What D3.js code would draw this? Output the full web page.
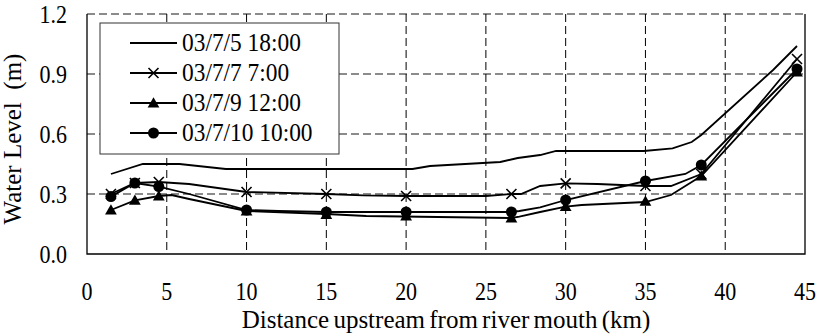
<!DOCTYPE html>
<html lang="en">
  <head>
    <meta charset="utf-8">
    <title>Water Level</title>
    <script src="https://d3js.org/d3.v7.min.js"></script>
    <style type="text/css">
      html, body {
        margin: 0; padding: 0;
        background: #fff;
      }
      text {
        font-family: "Liberation Serif", "Times New Roman", serif;
        fill: #000;
      }
    </style>
  </head>

  <body>
    <svg width="822" height="336"></svg>

    <script type="text/javascript">

      // ---- data ----
      var xTicks = [0, 5, 10, 15, 20, 25, 30, 35, 40, 45];
      var yTicks = [0, 0.3, 0.6, 0.9, 1.2];
      var yTickLabels = ["0.0", "0.3", "0.6", "0.9", "1.2"];

      var seriesNames = ["03/7/5 18:00", "03/7/7 7:00", "03/7/9 12:00", "03/7/10 10:00"];
      var markerTypes = ["none", "cross", "triangle", "circle"];

      // observation points (km) where the markers sit
      var markerKm = [1.5, 3.0, 4.5, 10, 15, 20, 26.6, 30, 35, 38.5, 44.5];
      var cross7    = [0.30, 0.355, 0.36, 0.31, 0.30, 0.29, 0.30, 0.353, 0.34, 0.40, 0.975];
      var tri9      = [0.22, 0.268, 0.29, 0.215, 0.197, 0.19, 0.18, 0.237, 0.263, 0.39, 0.91];
      var circle10  = [0.287, 0.355, 0.337, 0.22, 0.21, 0.21, 0.21, 0.27, 0.365, 0.445, 0.925];

      // line traces [km, m]
      var line5 = [[1.5, 0.40], [3.5, 0.45], [5.8, 0.45], [8.7, 0.425], [20.4, 0.425], [21.5, 0.44],
                   [25.9, 0.46], [27, 0.48], [28.4, 0.495], [29.4, 0.515], [34.9, 0.515], [36.7, 0.528],
                   [37.9, 0.56], [38.5, 0.595], [43, 0.92], [44.5, 1.04]];
      var line7 = [[1.5, 0.30], [3.0, 0.355], [4.5, 0.36], [6.4, 0.35], [10, 0.31], [15, 0.30], [17.3, 0.293],
                   [20, 0.29], [25, 0.29], [26.6, 0.30], [27.2, 0.30], [28.4, 0.34], [30, 0.353], [32, 0.35],
                   [35, 0.34], [36.6, 0.34], [38.5, 0.40], [44.5, 0.975]];
      var line9 = [[1.5, 0.22], [3.0, 0.268], [4.5, 0.29], [5.3, 0.295], [6.4, 0.275], [10, 0.215], [15, 0.20],
                   [17.5, 0.19], [22, 0.185], [26.6, 0.18], [27.1, 0.187], [28.4, 0.21], [30, 0.237], [31, 0.245],
                   [35, 0.26], [36.6, 0.295], [38.5, 0.39], [44.5, 0.91]];
      var line10 = [[1.5, 0.287], [3.0, 0.355], [4.5, 0.337], [6.4, 0.30], [10, 0.22], [12, 0.215], [15, 0.21],
                    [20, 0.21], [26.6, 0.21], [27.1, 0.215], [28.4, 0.233], [30, 0.27], [35, 0.365], [37.5, 0.40],
                    [38.5, 0.445], [44.5, 0.925]];

      var lines = [line5, line7, line9, line10];
      var markerVals = [null, cross7, tri9, circle10];

      // ---- layout ----
      var svg = d3.select("svg");
      var x = d3.scaleLinear().domain([0, 45]).range([87, 805]);
      var y = d3.scaleLinear().domain([0, 1.2]).range([254, 14]);

      // the source figure's lettering is a bit taller than wide
      var stretch = 1.1;
      function place(px, py, sy) {
        return "translate(" + px + "," + py + ") scale(1," + (sy || stretch) + ")";
      }

      // grid lines
      var gridG = svg.append("g");
      gridG.selectAll("line.h")
           .data(yTicks.filter(function(d){ return d > 0; }))
           .enter().append("line")
           .attr("x1", x(0)).attr("x2", x(45))
           .attr("y1", function(d){ return y(d); })
           .attr("y2", function(d){ return y(d); })
           .style("stroke", "#666")
           .style("stroke-width", 1.4)
           .style("stroke-dasharray", "8,4");

      gridG.selectAll("line.v")
           .data(xTicks.filter(function(d){ return d > 0 && d < 45; }))
           .enter().append("line")
           .attr("y1", y(1.2)).attr("y2", y(0))
           .attr("x1", function(d){ return x(d); })
           .attr("x2", function(d){ return x(d); })
           .style("stroke", "#000")
           .style("stroke-width", 1)
           .style("stroke-dasharray", "8,4");

      // solid frame: left, bottom, right
      svg.append("path")
         .attr("d", "M" + x(0) + "," + y(1.2) + "V" + y(0) + "H" + x(45) + "V" + y(1.2))
         .style("fill", "none")
         .style("stroke", "#000")
         .style("stroke-width", 1.3);

      // tick labels
      svg.selectAll("text.xt")
         .data(xTicks)
         .enter().append("text")
         .attr("transform", function(d){ return place(x(d), 300); })
         .attr("text-anchor", "middle")
         .style("font-size", "22px")
         .text(function(d){ return d; });

      svg.selectAll("text.yt")
         .data(yTicks)
         .enter().append("text")
         .attr("transform", function(d){ return place(67, y(d) + 9); })
         .attr("text-anchor", "end")
         .style("font-size", "22px")
         .text(function(d, i){ return yTickLabels[i]; });

      // axis titles
      svg.append("text")
         .attr("x", (x(0) + x(45)) / 2)
         .attr("y", 328)
         .attr("text-anchor", "middle")
         .style("font-size", "25px")
         .style("word-spacing", "-2px")
         .text("Distance upstream from river mouth (km)");

      svg.append("text")
         .attr("transform", "translate(21,139) rotate(-90)")
         .attr("text-anchor", "middle")
         .style("font-size", "25px")
         .style("white-space", "pre")
         .text("Water Level  (m)");

      // series lines
      var line = d3.line()
                   .x(function(d){ return x(d[0]); })
                   .y(function(d){ return y(d[1]); });

      var lineG = svg.append("g");
      lineG.selectAll("path")
           .data(lines)
           .enter().append("path")
           .attr("d", line)
           .style("fill", "none")
           .style("stroke", "#000")
           .style("stroke-width", 1.8);

      // marker drawing
      function drawMarker(g, type, cx, cy) {
        if (type == "cross") {
          g.append("path")
           .attr("d", "M" + (cx - 5) + "," + (cy - 5) + "L" + (cx + 5) + "," + (cy + 5) +
                      "M" + (cx - 5) + "," + (cy + 5) + "L" + (cx + 5) + "," + (cy - 5))
           .style("stroke", "#000")
           .style("stroke-width", 1.6);
        } else if (type == "triangle") {
          g.append("path")
           .attr("d", d3.symbol().type(d3.symbolTriangle).size(60))
           .attr("transform", "translate(" + cx + "," + (cy + 1) + ")")
           .style("fill", "#000");
        } else if (type == "circle") {
          g.append("circle")
           .attr("cx", cx).attr("cy", cy).attr("r", 5.5)
           .style("fill", "#000");
        }
      }

      var markG = svg.append("g");
      markerVals.forEach(function(vals, s) {
        if (!vals) return;
        vals.forEach(function(v, i) {
          drawMarker(markG, markerTypes[s], x(markerKm[i]), y(v));
        });
      });

      // legend
      var legG = svg.append("g");
      legG.append("rect")
          .attr("x", 100).attr("y", 23)
          .attr("width", 239).attr("height", 131)
          .style("fill", "#fff")
          .style("stroke", "#333")
          .style("stroke-width", 1);

      seriesNames.forEach(function(name, i) {
        var ly = 43 + i * 30;
        legG.append("line")
            .attr("x1", 130).attr("x2", 177)
            .attr("y1", ly).attr("y2", ly)
            .style("stroke", "#000")
            .style("stroke-width", 1.8);
        drawMarker(legG, markerTypes[i], 153.5, ly);
        legG.append("text")
            .attr("transform", place(182, ly + 7.5))
            .style("font-size", "23.4px")
            .text(name);
      });

    </script>
  </body>
</html>
